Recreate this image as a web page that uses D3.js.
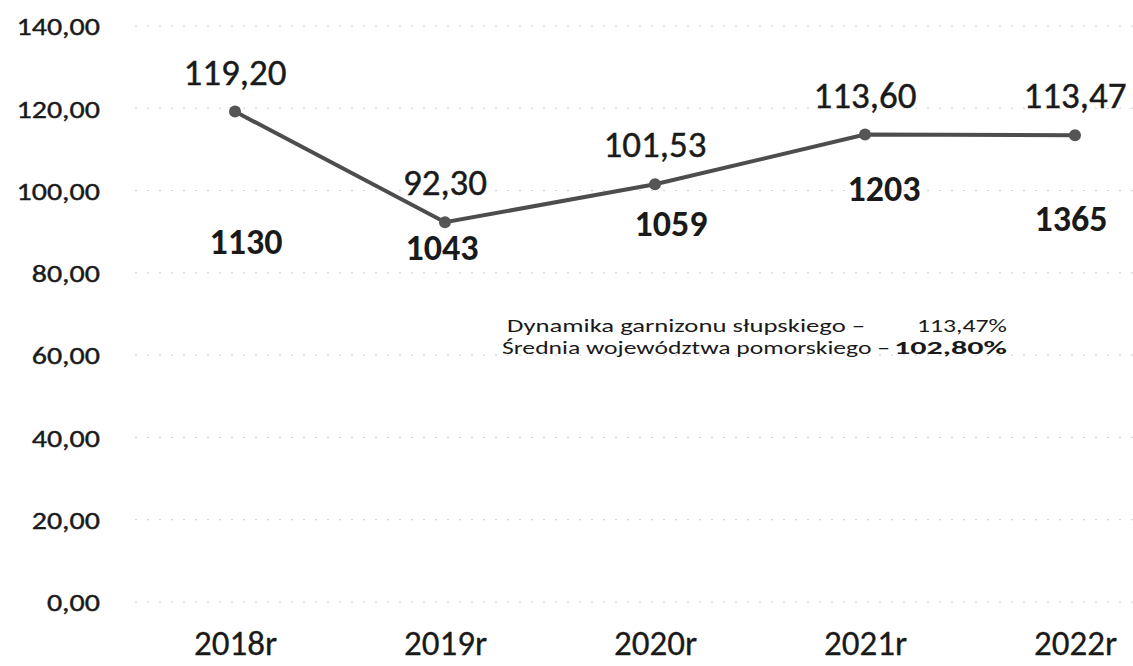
<!DOCTYPE html>
<html>
<head>
<meta charset="utf-8">
<script src="https://cdn.jsdelivr.net/npm/d3@7"></script>
<style>
  body { margin: 0; background: #fff; }
  svg { display: block; font-family: Carlito, Lato, "Liberation Sans", sans-serif; }
</style>
</head>
<body>
<div id="chart"></div>
<script>
// chart data
const years = ['2018r', '2019r', '2020r', '2021r', '2022r'];
const dynamics = [119.20, 92.30, 101.53, 113.60, 113.47];
const counts = [1130, 1043, 1059, 1203, 1365];
const yTicks = [0, 20, 40, 60, 80, 100, 120, 140];

// where the count labels sit relative to each point (px)
const countOffsets = [[11, 142], [-3, 38], [16, 52], [19, 66], [-4, 96]];

const width = 1133, height = 666;
const ink = '#1a1a1a';
const fmt = v => v.toFixed(2).replace('.', ',');

const svg = d3.select('#chart')
  .append('svg')
  .attr('width', width)
  .attr('height', height);

const x = d3.scalePoint()
  .domain(years)
  .range([235, 1075]);

const y = d3.scaleLinear()
  .domain([0, 140])
  .range([602, 26]);

// dotted gridlines
svg.append('g')
  .selectAll('line')
  .data(yTicks)
  .enter()
  .append('line')
  .attr('x1', 135)
  .attr('x2', width)
  .attr('y1', d => y(d))
  .attr('y2', d => y(d))
  .attr('stroke', '#cfcfcf')
  .attr('stroke-width', 1)
  .attr('stroke-dasharray', '2,10');

// y axis labels (scan is a bit wide, so stretch them)
const yAxis = svg.append('g')
  .attr('transform', 'translate(100,0)')
  .call(d3.axisLeft(y).tickValues(yTicks).tickFormat(fmt).tickSize(0).tickPadding(0));
yAxis.select('.domain').remove();
yAxis.selectAll('text')
  .attr('font-family', 'Carlito, Lato, sans-serif')
  .attr('font-size', 25)
  .attr('fill', ink)
  .attr('stroke', ink)
  .attr('stroke-width', 0.4)
  .attr('x', 0)
  .attr('dy', '0.35em')
  .attr('text-anchor', 'end')
  .attr('transform', 'scale(1.2,1)');

// x axis labels
const xAxis = svg.append('g')
  .attr('transform', 'translate(0,630)')
  .call(d3.axisBottom(x).tickSize(0).tickPadding(0));
xAxis.select('.domain').remove();
xAxis.selectAll('text')
  .attr('font-family', 'Carlito, Lato, sans-serif')
  .attr('font-size', 35)
  .attr('fill', ink)
  .attr('stroke', ink)
  .attr('stroke-width', 0.3)
  .attr('dy', '0.72em');

// line
const line = d3.line()
  .x((d, i) => x(years[i]))
  .y(d => y(d));

svg.append('path')
  .datum(dynamics)
  .attr('fill', 'none')
  .attr('stroke', '#4d4d4d')
  .attr('stroke-width', 4)
  .attr('d', line);

svg.selectAll('circle.pt')
  .data(dynamics)
  .enter()
  .append('circle')
  .attr('class', 'pt')
  .attr('cx', (d, i) => x(years[i]))
  .attr('cy', d => y(d))
  .attr('r', 6)
  .attr('fill', '#555');

// value labels above points
svg.selectAll('text.val')
  .data(dynamics)
  .enter()
  .append('text')
  .attr('class', 'val')
  .attr('x', (d, i) => x(years[i]))
  .attr('y', d => y(d) - 27)
  .attr('text-anchor', 'middle')
  .attr('font-size', 37)
  .attr('fill', ink)
  .attr('stroke', ink)
  .attr('stroke-width', 0.4)
  .text(fmt);

// counts (bold)
svg.selectAll('text.cnt')
  .data(counts)
  .enter()
  .append('text')
  .attr('class', 'cnt')
  .attr('x', (d, i) => x(years[i]) + countOffsets[i][0])
  .attr('y', (d, i) => y(dynamics[i]) + countOffsets[i][1])
  .attr('text-anchor', 'middle')
  .attr('font-size', 36)
  .attr('font-weight', 'bold')
  .attr('fill', ink)
  .text(d => d);

// annotation
const note = svg.append('g').attr('font-size', 18).attr('fill', ink);
note.append('text')
  .attr('x', 507).attr('y', 332)
  .attr('textLength', 358).attr('lengthAdjust', 'spacingAndGlyphs')
  .text('Dynamika garnizonu słupskiego –');
note.append('text')
  .attr('x', 917).attr('y', 332)
  .attr('textLength', 90).attr('lengthAdjust', 'spacingAndGlyphs')
  .text('113,47%');
note.append('text')
  .attr('x', 502).attr('y', 354)
  .attr('textLength', 388).attr('lengthAdjust', 'spacingAndGlyphs')
  .text('Średnia województwa pomorskiego –');
note.append('text')
  .attr('x', 894).attr('y', 354)
  .attr('font-weight', 'bold')
  .attr('textLength', 113).attr('lengthAdjust', 'spacingAndGlyphs')
  .text('102,80%');
</script>
</body>
</html>
